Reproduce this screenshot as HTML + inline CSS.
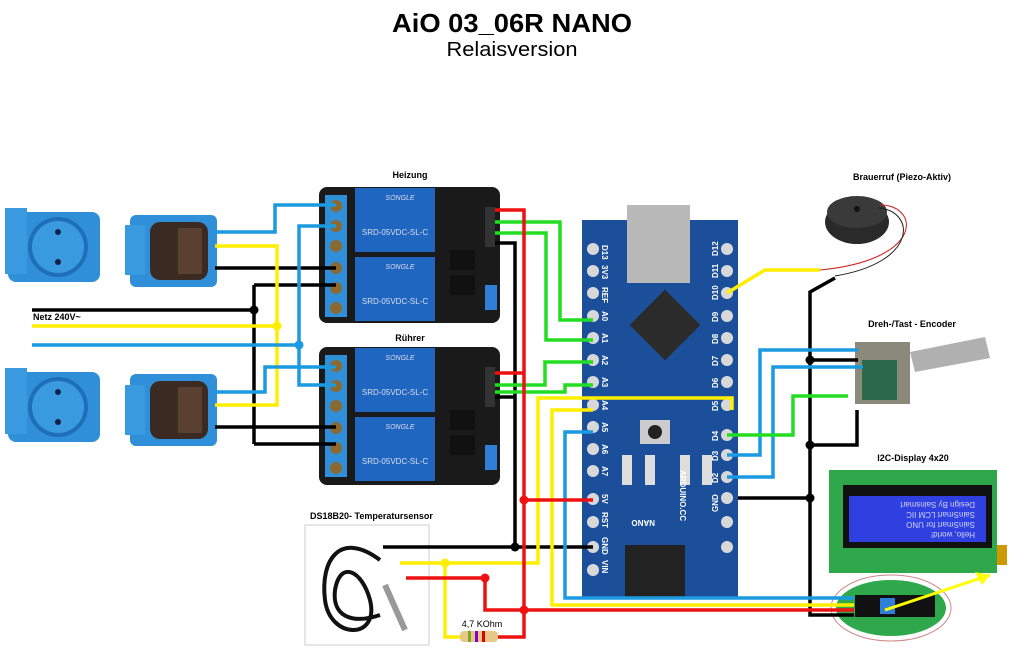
<!DOCTYPE html>
<html><head><meta charset="utf-8"><style>
html,body{margin:0;padding:0;background:#fff;width:1024px;height:651px;overflow:hidden}
svg{display:block}
text{font-family:"Liberation Sans",sans-serif}
</style></head><body>
<svg width="1024" height="651" viewBox="0 0 1024 651" xmlns="http://www.w3.org/2000/svg">
<text x="512" y="32" text-anchor="middle" font-size="26" font-weight="bold" textLength="240" lengthAdjust="spacingAndGlyphs">AiO 03_06R NANO</text>
<text x="512" y="56" text-anchor="middle" font-size="20" textLength="131" lengthAdjust="spacingAndGlyphs">Relaisversion</text>

<!-- sockets -->
<g>
<rect x="8" y="212" width="92" height="70" rx="8" fill="#2f8fd8"/><rect x="5" y="208" width="22" height="66" fill="#3a9ae0"/>
<circle cx="58" cy="247" r="30" fill="#1f6fb8"/><circle cx="58" cy="247" r="26" fill="#3a9ae0"/>
<circle cx="58" cy="232" r="3" fill="#124"/><circle cx="58" cy="262" r="3" fill="#124"/>
<rect x="130" y="215" width="87" height="72" rx="6" fill="#2f8fd8"/><rect x="125" y="225" width="20" height="50" fill="#3a9ae0"/>
<rect x="150" y="222" width="58" height="58" rx="10" fill="#3a2a22"/>
<rect x="178" y="228" width="24" height="46" fill="#5a4030"/>
<rect x="8" y="372" width="92" height="70" rx="8" fill="#2f8fd8"/><rect x="5" y="368" width="22" height="66" fill="#3a9ae0"/>
<circle cx="58" cy="407" r="30" fill="#1f6fb8"/><circle cx="58" cy="407" r="26" fill="#3a9ae0"/>
<circle cx="58" cy="392" r="3" fill="#124"/><circle cx="58" cy="422" r="3" fill="#124"/>
<rect x="130" y="374" width="87" height="72" rx="6" fill="#2f8fd8"/><rect x="125" y="385" width="20" height="50" fill="#3a9ae0"/>
<rect x="150" y="381" width="58" height="58" rx="10" fill="#3a2a22"/>
<rect x="178" y="387" width="24" height="46" fill="#5a4030"/>
</g>

<text x="33" y="320" font-size="9" font-weight="bold">Netz 240V~</text>
<text x="410" y="178" text-anchor="middle" font-size="9" font-weight="bold">Heizung</text>
<text x="410" y="341" text-anchor="middle" font-size="9" font-weight="bold">Rührer</text>

<!-- relay boards -->
<g>
<rect x="319" y="187" width="181" height="136" rx="8" fill="#1a1a1a"/>
<rect x="325" y="195" width="22" height="122" fill="#2f8fd8"/>
<g fill="#8a6a30"><circle cx="336" cy="206" r="6"/><circle cx="336" cy="226" r="6"/><circle cx="336" cy="246" r="6"/><circle cx="336" cy="268" r="6"/><circle cx="336" cy="288" r="6"/><circle cx="336" cy="308" r="6"/></g>
<rect x="355" y="188" width="80" height="64" fill="#1f66c0"/><rect x="355" y="257" width="80" height="64" fill="#1f66c0"/>
<text x="400" y="200" font-size="7" font-style="italic" fill="#dde" text-anchor="middle">SONGLE</text>
<text x="400" y="269" font-size="7" font-style="italic" fill="#dde" text-anchor="middle">SONGLE</text>
<text x="395" y="235" font-size="8" fill="#dde" text-anchor="middle">SRD-05VDC-SL-C</text>
<text x="395" y="304" font-size="8" fill="#dde" text-anchor="middle">SRD-05VDC-SL-C</text>
<rect x="450" y="250" width="25" height="20" fill="#111"/><rect x="450" y="275" width="25" height="20" fill="#111"/>
<rect x="485" y="207" width="10" height="40" fill="#333"/>
<rect x="485" y="285" width="12" height="25" fill="#2f7fd8"/>
</g>
<g>
<rect x="319" y="347" width="181" height="138" rx="8" fill="#1a1a1a"/>
<rect x="325" y="355" width="22" height="122" fill="#2f8fd8"/>
<g fill="#8a6a30"><circle cx="336" cy="366" r="6"/><circle cx="336" cy="386" r="6"/><circle cx="336" cy="406" r="6"/><circle cx="336" cy="428" r="6"/><circle cx="336" cy="448" r="6"/><circle cx="336" cy="468" r="6"/></g>
<rect x="355" y="348" width="80" height="64" fill="#1f66c0"/><rect x="355" y="417" width="80" height="64" fill="#1f66c0"/>
<text x="400" y="360" font-size="7" font-style="italic" fill="#dde" text-anchor="middle">SONGLE</text>
<text x="400" y="429" font-size="7" font-style="italic" fill="#dde" text-anchor="middle">SONGLE</text>
<text x="395" y="395" font-size="8" fill="#dde" text-anchor="middle">SRD-05VDC-SL-C</text>
<text x="395" y="464" font-size="8" fill="#dde" text-anchor="middle">SRD-05VDC-SL-C</text>
<rect x="450" y="410" width="25" height="20" fill="#111"/><rect x="450" y="435" width="25" height="20" fill="#111"/>
<rect x="485" y="367" width="10" height="40" fill="#333"/>
<rect x="485" y="445" width="12" height="25" fill="#2f7fd8"/>
</g>

<!-- Arduino -->
<rect x="582" y="220" width="156" height="378" fill="#1b4f9a"/>
<rect x="627" y="205" width="63" height="78" fill="#b9b9b9"/>
<rect x="640" y="300" width="50" height="50" fill="#2b2b2b" transform="rotate(45 665 325)"/>
<rect x="640" y="420" width="30" height="24" fill="#ccc"/><circle cx="655" cy="432" r="7" fill="#222"/>
<g fill="#ddd"><rect x="622" y="455" width="10" height="30"/><rect x="645" y="455" width="10" height="30"/><rect x="680" y="455" width="10" height="30"/><rect x="702" y="455" width="10" height="30"/></g>
<rect x="625" y="545" width="60" height="52" fill="#222"/>
<g fill="#d8d8d8">
<circle cx="593" cy="249" r="6"/><circle cx="593" cy="271" r="6"/><circle cx="593" cy="293" r="6"/><circle cx="593" cy="316" r="6"/><circle cx="593" cy="338" r="6"/><circle cx="593" cy="360" r="6"/><circle cx="593" cy="382" r="6"/><circle cx="593" cy="405" r="6"/><circle cx="593" cy="427" r="6"/><circle cx="593" cy="449" r="6"/><circle cx="593" cy="471" r="6"/><circle cx="593" cy="499" r="6"/><circle cx="593" cy="522" r="6"/><circle cx="593" cy="547" r="6"/><circle cx="593" cy="570" r="6"/>
<circle cx="727" cy="249" r="6"/><circle cx="727" cy="271" r="6"/><circle cx="727" cy="293" r="6"/><circle cx="727" cy="316" r="6"/><circle cx="727" cy="338" r="6"/><circle cx="727" cy="360" r="6"/><circle cx="727" cy="382" r="6"/><circle cx="727" cy="405" r="6"/><circle cx="727" cy="435" r="6"/><circle cx="727" cy="455" r="6"/><circle cx="727" cy="477" r="6"/><circle cx="727" cy="498" r="6"/><circle cx="727" cy="522" r="6"/><circle cx="727" cy="547" r="6"/>
</g>
<g fill="#fff" font-size="8" font-weight="bold">
<text transform="translate(602,245) rotate(90)">D13</text><text transform="translate(602,265) rotate(90)">3V3</text><text transform="translate(602,287) rotate(90)">REF</text>
<text transform="translate(602,311) rotate(90)">A0</text><text transform="translate(602,333) rotate(90)">A1</text><text transform="translate(602,355) rotate(90)">A2</text><text transform="translate(602,377) rotate(90)">A3</text><text transform="translate(602,400) rotate(90)">A4</text><text transform="translate(602,422) rotate(90)">A5</text><text transform="translate(602,444) rotate(90)">A6</text><text transform="translate(602,466) rotate(90)">A7</text><text transform="translate(602,494) rotate(90)">5V</text><text transform="translate(602,512) rotate(90)">RST</text><text transform="translate(602,537) rotate(90)">GND</text><text transform="translate(602,560) rotate(90)">VIN</text>
<text transform="translate(718,256) rotate(-90)">D12</text><text transform="translate(718,278) rotate(-90)">D11</text><text transform="translate(718,300) rotate(-90)">D10</text><text transform="translate(718,322) rotate(-90)">D9</text><text transform="translate(718,344) rotate(-90)">D8</text><text transform="translate(718,366) rotate(-90)">D7</text><text transform="translate(718,388) rotate(-90)">D6</text><text transform="translate(718,411) rotate(-90)">D5</text><text transform="translate(718,441) rotate(-90)">D4</text><text transform="translate(718,461) rotate(-90)">D3</text><text transform="translate(718,483) rotate(-90)">D2</text><text transform="translate(718,512) rotate(-90)">GND</text>
<text transform="translate(680,470) rotate(90)">ARDUINO.CC</text>
<text transform="translate(655,520) rotate(180)">NANO</text>
</g>

<!-- buzzer -->
<text x="902" y="180" text-anchor="middle" font-size="9" font-weight="bold">Brauerruf (Piezo-Aktiv)</text>
<ellipse cx="857" cy="222" rx="32" ry="22" fill="#2a2a2a"/><ellipse cx="857" cy="212" rx="30" ry="16" fill="#3a3a3a"/>
<circle cx="857" cy="209" r="3" fill="#111"/>
<path d="M880 205 C920 205 925 260 820 270" stroke="#c22" stroke-width="1" fill="none"/>
<path d="M878 208 C915 210 920 262 835 276" stroke="#222" stroke-width="1" fill="none"/>

<!-- encoder -->
<text x="912" y="327" text-anchor="middle" font-size="9" font-weight="bold">Dreh-/Tast - Encoder</text>
<rect x="855" y="342" width="55" height="62" fill="#8a8a7a"/><rect x="862" y="360" width="35" height="40" fill="#2a6a4a"/>
<path d="M910 352 L985 337 L990 358 L915 372 Z" fill="#b0b0b0"/>

<!-- LCD -->
<text x="913" y="461" text-anchor="middle" font-size="9" font-weight="bold">I2C-Display 4x20</text>
<rect x="829" y="470" width="168" height="103" fill="#2ea84a"/>
<rect x="843" y="485" width="149" height="63" fill="#111"/>
<rect x="849" y="496" width="137" height="46" fill="#3040e0"/>
<rect x="997" y="545" width="10" height="20" fill="#c90"/>
<g fill="#cfd4ff" font-size="8" font-family="Liberation Mono,monospace">
<text transform="translate(975,502) rotate(180)">Design By Sainsmart</text>
<text transform="translate(975,512) rotate(180)">SainSmart LCM IIC</text>
<text transform="translate(975,522) rotate(180)">SainSmart for UNO</text>
<text transform="translate(975,532) rotate(180)">Hello, world!</text>
</g>
<ellipse cx="891" cy="608" rx="60" ry="33" fill="#fff" stroke="#c88" stroke-width="1"/>
<ellipse cx="891" cy="608" rx="55" ry="28" fill="#2ea84a"/>
<rect x="855" y="595" width="80" height="22" fill="#111"/>
<rect x="880" y="598" width="15" height="16" fill="#2f7fd8"/>
<line x1="885" y1="610" x2="990" y2="575" stroke="#ff0" stroke-width="3"/>
<polygon points="990,575 975,572 982,585" fill="#ff0"/>

<!-- sensor box -->
<text x="310" y="519" font-size="9" font-weight="bold">DS18B20- Temperatursensor</text>
<rect x="305" y="525" width="124" height="120" fill="#fff" stroke="#ccc"/>
<path d="M380 560 C340 530 320 560 325 600 C330 640 380 640 370 600 C362 570 340 560 335 590 C332 615 350 625 380 615" fill="none" stroke="#111" stroke-width="4"/>
<line x1="385" y1="585" x2="405" y2="630" stroke="#999" stroke-width="6"/>

<!-- resistor -->
<text x="482" y="627" text-anchor="middle" font-size="9">4,7 KOhm</text>
<rect x="460" y="631" width="38" height="11" rx="4" fill="#e8c888"/>
<rect x="468" y="631" width="3" height="11" fill="#7a2"/><rect x="475" y="631" width="3" height="11" fill="#80c"/><rect x="482" y="631" width="3" height="11" fill="#d00"/>

<!-- wires -->
<g fill="none" stroke-width="3.5" stroke-linejoin="miter">
<g stroke="#000">
<path d="M32 310 H254"/><path d="M254 285 V444"/><path d="M254 285 H336"/><path d="M254 444 H336"/>
<path d="M215 268 H336"/><path d="M215 427 H336"/>
<path d="M495 243 H515 V547"/><path d="M495 397 H515"/>
<path d="M383 547 H593"/>
<path d="M738 498 H810"/><path d="M835 278 L810 292 V615 H854"/>
<path d="M810 360 H858"/><path d="M857 410 V445 H810"/>
</g>
<g stroke="#ffee00">
<path d="M32 326 H277"/><path d="M215 246 H277 V405 H215"/>
<path d="M727 293 L765 270 H820"/>
<path d="M400 563 H538 V398 H732 V410"/>
<path d="M593 410 H552 V605 H854"/>
<path d="M445 563 V637 H460"/>
</g>
<g stroke="#1a9ae0">
<path d="M32 345 H299"/><path d="M336 226 H299 V385 H336"/>
<path d="M215 232 H275 V205 H336"/><path d="M215 392 H265 V367 H336"/>
<path d="M593 432 H565 V598 H854"/>
<path d="M727 455 H760 V350 H858"/><path d="M727 477 H773 V367 H863"/>
</g>
<g stroke="#22dd22">
<path d="M495 222 H560 V320 H593"/><path d="M495 233 H546 V340 H593"/>
<path d="M495 385 H545 V362 H593"/><path d="M495 392 H565 V385 H593"/>
<path d="M727 435 H793 V396 H848"/>
</g>
<g stroke="#ee1111">
<path d="M495 210 H524 V637 H498"/><path d="M495 373 H524"/>
<path d="M524 500 H593"/>
<path d="M406 578 H485 V610 H854"/>
</g>
</g>
<g>
<circle cx="254" cy="310" r="4.5"/><circle cx="277" cy="326" r="4.5" fill="#ffee00"/><circle cx="299" cy="345" r="4.5" fill="#1a9ae0"/>
<circle cx="515" cy="547" r="4.5"/><circle cx="810" cy="498" r="4.5"/><circle cx="810" cy="360" r="4.5"/><circle cx="810" cy="445" r="4.5"/>
<circle cx="524" cy="500" r="4.5" fill="#e11"/><circle cx="485" cy="578" r="4.5" fill="#e11"/><circle cx="524" cy="610" r="4.5" fill="#e11"/>
<circle cx="445" cy="563" r="4.5" fill="#ffee00"/>
</g>
</svg>
</body></html>
